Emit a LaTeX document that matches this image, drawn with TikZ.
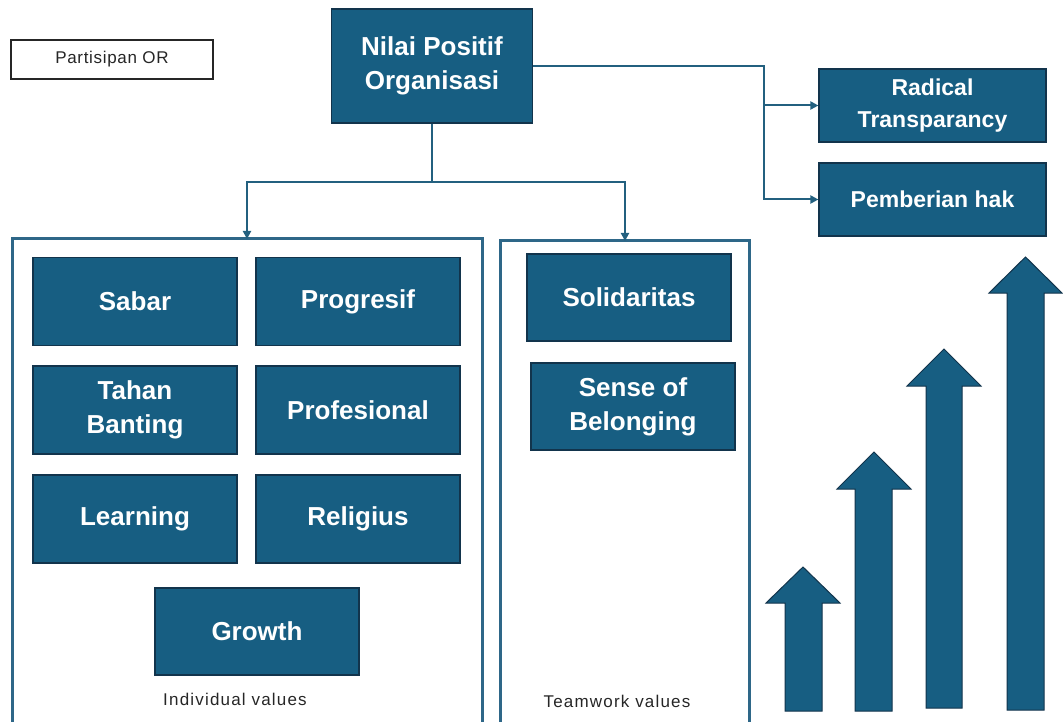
\documentclass[tikz,border=0pt]{standalone}
\usepackage{fontspec}
\setmainfont{Liberation Sans}
\usetikzlibrary{arrows.meta}

\definecolor{boxfill}{HTML}{175E82}
\definecolor{boxedge}{HTML}{12344C}
\definecolor{wire}{HTML}{23607F}
\definecolor{frameline}{HTML}{2E6788}

\begin{document}
\begin{tikzpicture}[x=1pt,y=-1pt,
  valbox/.style={draw=boxedge, line width=1.2pt, fill=boxfill, text=white,
    font=\fontsize{26}{34}\selectfont\bfseries, align=center,
    minimum width=204pt, minimum height=88pt, inner sep=0pt},
  sidebox/.style={valbox, font=\fontsize{23}{32}\selectfont\bfseries,
    minimum width=227pt, minimum height=73pt},
  plainbox/.style={draw=black!85, line width=1.2pt, fill=white, text=black!85,
    font=\fontsize{17}{20}\selectfont\addfontfeature{LetterSpace=4},
    minimum width=202pt, minimum height=39pt, inner sep=0pt},
  caption/.style={text=black!85, inner sep=0pt,
    font=\fontsize{17}{20}\selectfont\addfontfeature{LetterSpace=7}},
  wireline/.style={draw=wire, line width=2pt},
  wirearrow/.style={wireline, -{Triangle[length=8pt,width=8pt]}},
  frame/.style={draw=frameline, line width=3pt},
  growarrow/.style={fill=boxfill, draw=boxedge, line width=1pt, line join=miter}
]
\useasboundingbox (0,0) rectangle (1063,722);

% top level
\node[plainbox] (part) at (112,59.5) {Partisipan OR};
\node[valbox, minimum width=201pt, minimum height=114pt] (nilai) at (432,66)
  {Nilai Positif\\Organisasi};

% right-hand outcomes
\node[sidebox] (radical) at (932.5,105.5) {Radical\\Transparancy};
\node[sidebox] (hak) at (932.5,199.5) {Pemberian hak};

% group frames, open at the bottom edge
\draw[frame] (12,725) |- (482,239) -- (482,725);
\draw[frame] (500,725) |- (749,241) -- (749,725);
\coordinate (indtop) at (247,239);
\coordinate (teamtop) at (625,241);

% individual values
\node[valbox] (sabar) at (135,301.5) {Sabar};
\node[valbox] (progresif) at (358,301.5) {Progresif};
\node[valbox] (tahan) at (135,410) {Tahan\\Banting};
\node[valbox] (profesional) at (358,410) {Profesional};
\node[valbox] (learning) at (135,519) {Learning};
\node[valbox] (religius) at (358,519) {Religius};
\node[valbox, minimum height=87pt] (growth) at (257,631.5) {Growth};
\node[caption] (indcap) at (235,699) {Individual values};

% teamwork values
\node[valbox, minimum height=87pt] (solid) at (629,297.5) {Solidaritas};
\node[valbox, minimum height=87pt] (sense) at (633,406.5) {Sense of\\Belonging};
\node[caption] (teamcap) at (617,701) {Teamwork values};

% connectors
\coordinate (split) at (432,182);
\draw[wireline] (nilai.south) -- (split);
\draw[wirearrow] (split) -| (indtop);
\draw[wirearrow] (split) -| (teamtop);

\coordinate (bus) at (764,66);
\draw[wirearrow] (nilai.east |- bus) -- (bus) |- (hak.west);
\draw[wirearrow] (bus |- radical.west) -- (radical.west);

% rising arrows
\draw[growarrow] (785,711) -- (785,603) -- (766,603) -- (803,567) -- (840,603)
  -- (822,603) -- (822,711) -- cycle;
\draw[growarrow] (855,711) -- (855,489) -- (837,489) -- (874,452) -- (911,489)
  -- (892,489) -- (892,711) -- cycle;
\draw[growarrow] (926,708) -- (926,386) -- (907,386) -- (944,349) -- (981,386)
  -- (962,386) -- (962,708) -- cycle;
\draw[growarrow] (1007,710) -- (1007,293) -- (989,293) -- (1025.5,257) -- (1062,293)
  -- (1044,293) -- (1044,710) -- cycle;
\end{tikzpicture}
\end{document}
